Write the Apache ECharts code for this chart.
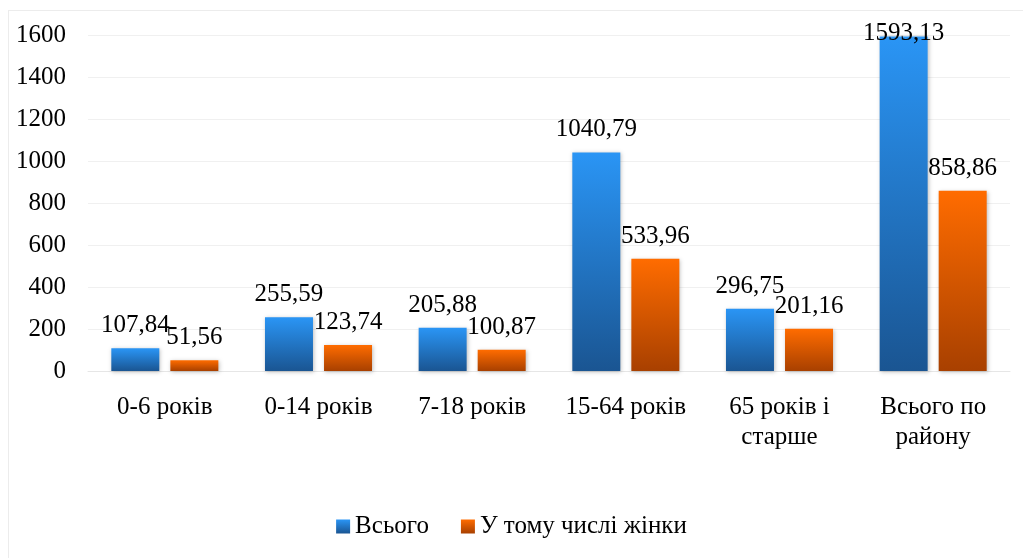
<!DOCTYPE html>
<html>
<head>
<meta charset="utf-8">
<script src="https://cdn.jsdelivr.net/npm/echarts@6/dist/echarts.min.js"></script>
<style>
html,body{margin:0;padding:0;background:#fff;}
#c{width:1023px;height:558px;}
#frame{position:absolute;left:8px;top:10px;width:1030px;height:560px;border:1px solid #ececec;box-sizing:border-box;pointer-events:none;}
</style>
</head>
<body>
<div id="c"></div>
<div id="frame"></div>
<script>
const categories = ['0-6 років', '0-14 років', '7-18 років', '15-64 років', '65 років і\nстарше', 'Всього по\nрайону'];
const totalValues = [107.84, 255.59, 205.88, 1040.79, 296.75, 1593.13];
const womenValues = [51.56, 123.74, 100.87, 533.96, 201.16, 858.86];
const yTicks = [0, 200, 400, 600, 800, 1000, 1200, 1400, 1600];
const seriesNames = ['Всього', 'У тому числі жінки'];

const font = 'Liberation Serif, Times New Roman, serif';
const fs = 25;
const blueGrad = new echarts.graphic.LinearGradient(0, 0, 0, 1, [
  {offset: 0, color: '#2A95F5'}, {offset: 1, color: '#1A5592'}
]);
const orangeGrad = new echarts.graphic.LinearGradient(0, 0, 0, 1, [
  {offset: 0, color: '#FF6C00'}, {offset: 1, color: '#A84000'}
]);
const fmt = p => p.value.toFixed(2).replace('.', ',');
const yMax = yTicks[yTicks.length - 1];

function makeData(arr) {
  return arr.map(v => {
    if (v > yMax * 0.97) {
      return {value: v, label: {distance: -9}};
    }
    return v;
  });
}

const chart = echarts.init(document.getElementById('c'));
chart.setOption({
  animation: false,
  textStyle: {fontFamily: font},
  grid: {left: 88, right: 13, top: 35, bottom: 187},
  legend: {
    bottom: 14,
    left: 'center',
    itemWidth: 14,
    itemHeight: 14,
    itemGap: 32,
    icon: 'rect',
    textStyle: {fontFamily: font, fontSize: fs, color: '#000'},
    data: seriesNames
  },
  xAxis: {
    type: 'category',
    data: categories,
    axisLine: {lineStyle: {color: '#e6e6e6'}},
    axisTick: {show: false},
    axisLabel: {fontFamily: font, fontSize: fs, color: '#000', margin: 21, lineHeight: 30, interval: 0}
  },
  yAxis: {
    type: 'value',
    min: 0,
    max: yMax,
    interval: yTicks[1] - yTicks[0],
    axisLine: {show: false},
    axisTick: {show: false},
    splitLine: {lineStyle: {color: '#f0f0f0'}},
    axisLabel: {fontFamily: font, fontSize: fs, color: '#000', margin: 22, formatter: v => String(v)}
  },
  series: [
    {
      name: seriesNames[0],
      type: 'bar',
      data: makeData(totalValues),
      barWidth: 48,
      barGap: '23%',
      itemStyle: {color: blueGrad, shadowColor: 'rgba(0,0,0,0.25)', shadowBlur: 4, shadowOffsetX: 1, shadowOffsetY: 1},
      label: {show: true, position: 'top', distance: 10, fontFamily: font, fontSize: fs, color: '#000', formatter: fmt}
    },
    {
      name: seriesNames[1],
      type: 'bar',
      data: makeData(womenValues),
      barWidth: 48,
      itemStyle: {color: orangeGrad, shadowColor: 'rgba(0,0,0,0.25)', shadowBlur: 4, shadowOffsetX: 1, shadowOffsetY: 1},
      label: {show: true, position: 'top', distance: 10, fontFamily: font, fontSize: fs, color: '#000', formatter: fmt}
    }
  ]
});
</script>
</body>
</html>
